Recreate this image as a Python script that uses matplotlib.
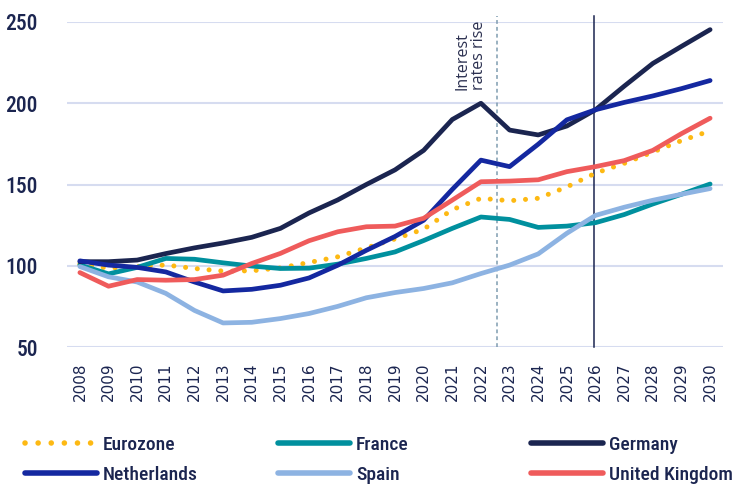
import matplotlib
matplotlib.use("Agg")
import matplotlib.pyplot as plt
from matplotlib import font_manager

years = list(range(2008, 2031))

eurozone = [101, 98.5, 99.5, 100.5, 98.3, 96.7, 96.9, 98.7, 102, 105.5, 111, 116.5,
            122.5, 134.5, 141.5, 140, 141.5, 148.5, 157, 163, 170, 177, 183]
france = [100.5, 95, 99, 104.5, 104, 101.8, 99.8, 98.3, 98.5, 101, 104.5, 108.5,
          115.5, 123, 130, 128.5, 123.6, 124.4, 126.5, 131.5, 138, 144, 150.3]
germany = [102.5, 102.5, 103.5, 107.5, 111, 114, 117.5, 123, 132.5, 140.5, 150, 159,
           171, 190, 200, 183.5, 180.5, 186, 196, 210.5, 224.5, 235, 245.3]
netherlands = [103, 100.4, 99, 96.2, 90, 84.5, 85.5, 88, 92.5, 100.3, 109.5, 118,
               128, 147, 165, 161, 174.8, 189.8, 196, 200.5, 204.5, 209, 214]
spain = [99.5, 93.2, 90, 83, 72.5, 64.8, 65.2, 67.5, 70.6, 75, 80.3, 83.5,
         86, 89.5, 95.2, 100.4, 107.3, 120, 131, 136, 140.3, 144, 147.5]
uk = [95.8, 87.4, 91.5, 91.1, 91.5, 94.2, 101.4, 107.6, 115.4, 120.9, 124, 124.4,
      129.2, 140.4, 151.7, 152.1, 152.9, 157.9, 161, 164.7, 171, 181.3, 190.8]

series = [
    ("Eurozone", eurozone, "#FDB913"),
    ("France", france, "#00909E"),
    ("Germany", germany, "#1B2550"),
    ("Netherlands", netherlands, "#1428A0"),
    ("Spain", spain, "#8DB3E2"),
    ("United Kingdom", uk, "#EF5B5B"),
]

rate_rise_year = 2022.55
forecast_year = 2025.93

navy = "#1B2550"

# pick a narrow font if one is installed
installed = {f.name for f in font_manager.fontManager.ttflist}
narrow = [f for f in ["Roboto Condensed", "Liberation Sans Narrow", "Roboto"]
          if f in installed] + ["DejaVu Sans"]
narrow_size = 14 if narrow[0] != "Roboto" else 12.5

fig = plt.figure(figsize=(7.42, 4.91), dpi=100)
ax = fig.add_axes([67 / 742, 1 - 347 / 491, (723 - 67) / 742, (347 - 22) / 491])

handles = []
for name, vals, color in series:
    if name == "Eurozone":
        ln, = ax.plot(years, vals, color=color, lw=3.6, linestyle=(0, (0.01, 2.35)),
                      dash_capstyle="round", label=name, zorder=3)
    else:
        ln, = ax.plot(years, vals, color=color, lw=3.4, solid_capstyle="round",
                      solid_joinstyle="round", label=name, zorder=3)
    handles.append(ln)

ax.plot([rate_rise_year, rate_rise_year], [50, 253.5], color="#7F9CB0", lw=1.1,
        linestyle=(0, (2.5, 2)), clip_on=False, zorder=2)
ax.plot([forecast_year, forecast_year], [50, 253.5], color=navy, lw=1.1,
        clip_on=False, zorder=2)
ax.text(2022.2, 208, "Interest\nrates rise", rotation=90, ha="right", va="bottom",
        multialignment="left", fontsize=11.5, color="#2B3050",
        family=["Open Sans", "DejaVu Sans"], linespacing=1.0)

ax.set_xlim(2007.55, 2030.45)
ax.set_ylim(50, 250)
ax.set_yticks([50, 100, 150, 200, 250])
ax.set_xticks(years)
ax.set_xticklabels([str(y) for y in years], rotation=90, fontsize=11,
                   color=navy, family=["DejaVu Sans"])
for lab in ax.get_yticklabels():
    lab.set_fontsize(narrow_size + 1.5)
    lab.set_color(navy)
    lab.set_family(narrow)
    lab.set_fontweight("medium")
ax.tick_params(axis="both", length=0)
ax.tick_params(axis="y", pad=21)
ax.tick_params(axis="x", pad=11)
ax.grid(axis="y", color="#D6DCF0", lw=1.5, zorder=0)
for s in ax.spines.values():
    s.set_visible(False)

# legend as three columns
cols = [(0, 3), (1, 4), (2, 5)]
xs = [25, 278, 531]
for (i, j), x in zip(cols, xs):
    leg = fig.legend([handles[i], handles[j]],
                     [series[i][0], series[j][0]],
                     loc="upper left", bbox_to_anchor=(x / 742, 1 - 436 / 491),
                     frameon=False, borderpad=0, borderaxespad=0,
                     handlelength=3.7, handletextpad=0.3, labelspacing=0.6,
                     prop={"family": narrow, "size": narrow_size, "weight": "medium"})
    for t in leg.get_texts():
        t.set_color(navy)
    for h in leg.get_lines():
        h.set_linewidth(4)

fig.savefig("out.png", dpi=100)
